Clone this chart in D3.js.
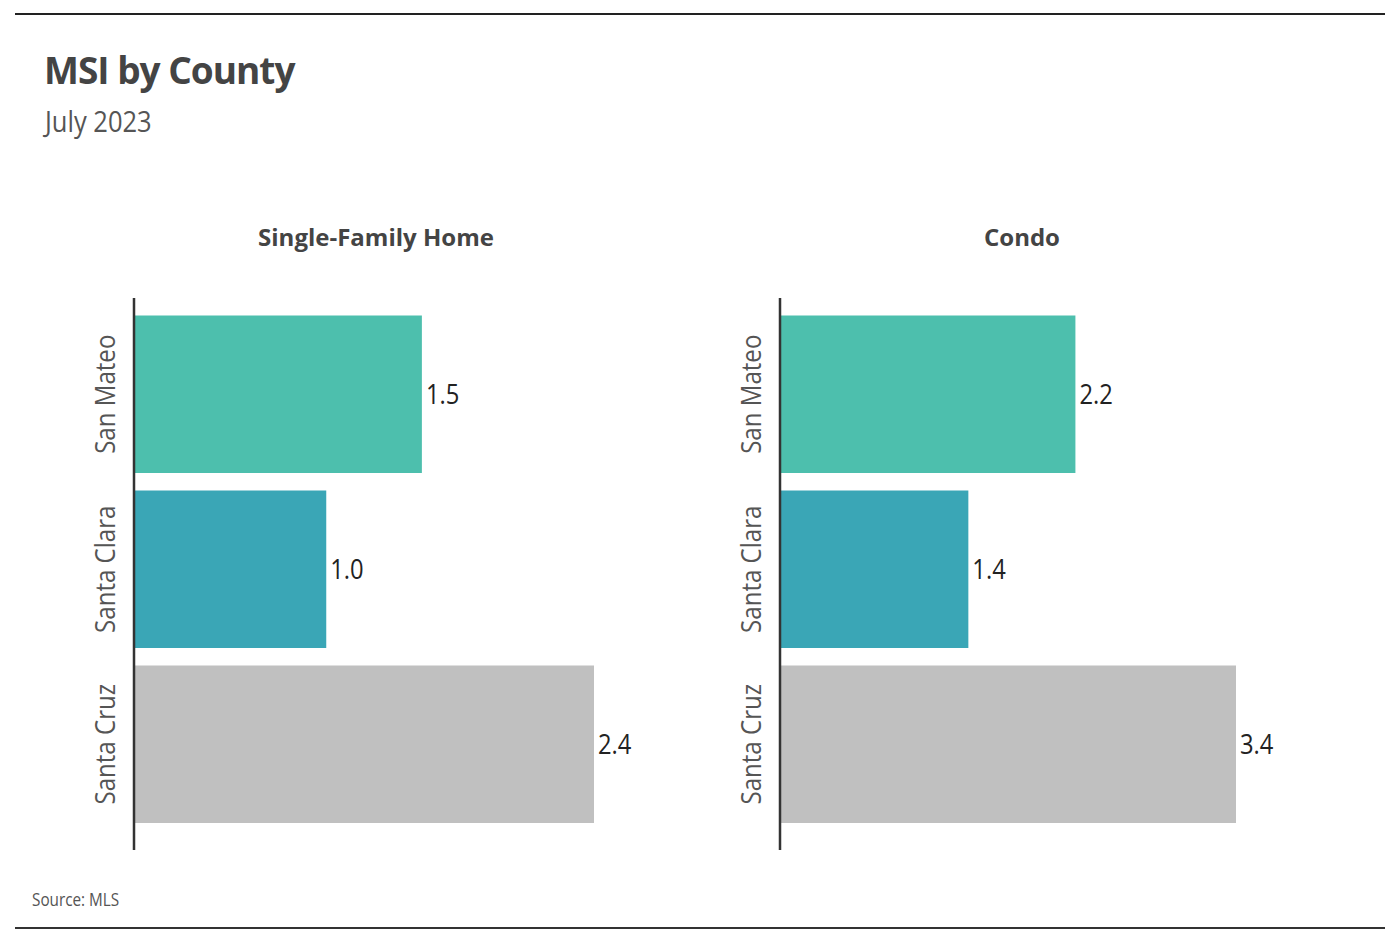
<!DOCTYPE html>
<html>
<head>
<meta charset="utf-8">
<script src="https://cdn.jsdelivr.net/npm/d3@7"></script>
<style>
  body { margin: 0; background: #fff; }
  svg { display: block; }
</style>
</head>
<body>
<svg id="chart" width="1398" height="946"></svg>
<script>
  'use strict'

  var counties = ['San Mateo', 'Santa Clara', 'Santa Cruz']
  var singleFamily = [1.5, 1.0, 2.4]
  var condo = [2.2, 1.4, 3.4]
  var panelTitles = ['Single-Family Home', 'Condo']
  var barColors = ['#4dbfad', '#3aa6b6', '#c0c0c0']

  var font = '"Open Sans", sans-serif'
  var svg = d3.select('#chart')

  // condensed look: squeeze the text horizontally
  function narrowText (x, y, sx, size, color, txt) {
    return svg.append('text')
      .attr('transform', 'translate(' + x + ',' + y + ') scale(' + sx + ',1)')
      .style('font-family', font).style('font-size', size).style('fill', color)
      .text(txt)
  }

  // frame rules
  svg.append('line').attr('x1', 15).attr('x2', 1385).attr('y1', 14).attr('y2', 14)
    .style('stroke', '#222').style('stroke-width', 2)
  svg.append('line').attr('x1', 15).attr('x2', 1385).attr('y1', 928).attr('y2', 928)
    .style('stroke', '#333').style('stroke-width', 2)

  svg.append('text').attr('x', 44).attr('y', 84)
    .style('font-family', font).style('font-weight', 700)
    .style('font-size', '37px').style('fill', '#444').style('letter-spacing', '-1px')
    .text('MSI by County')
  narrowText(45, 132, 0.88, '29px', '#555', 'July 2023')
  narrowText(32, 906, 0.85, '18px', '#555', 'Source: MLS')

  function drawPanel (axisX, titleX, title, values, barSpan) {
    var g = svg.append('g').attr('transform', 'translate(' + axisX + ',0)')

    var y = d3.scaleBand().domain(counties).range([298, 840.5])
      .paddingInner(0.1).paddingOuter(0.1)
    var x = d3.scaleLinear().domain([0, d3.max(values)]).range([0, barSpan])

    g.selectAll('rect.bar').data(counties).enter().append('rect')
      .attr('class', 'bar')
      .attr('x', 1)
      .attr('y', function (d) { return y(d) })
      .attr('width', function (d, i) { return x(values[i]) })
      .attr('height', y.bandwidth())
      .style('fill', function (d, i) { return barColors[i] })

    g.selectAll('text.value').data(counties).enter().append('text')
      .attr('class', 'value')
      .attr('transform', function (d, i) {
        return 'translate(' + (x(values[i]) + 5) + ',' + (y(d) + y.bandwidth() / 2) + ') scale(0.88,1)'
      })
      .attr('dy', '0.35em')
      .style('font-family', font).style('font-size', '27px').style('fill', '#222')
      .text(function (d, i) { return d3.format('.1f')(values[i]) })

    g.selectAll('text.cat').data(counties).enter().append('text')
      .attr('class', 'cat')
      .attr('transform', function (d) {
        return 'translate(-19,' + (y(d) + y.bandwidth() / 2) + ') rotate(-90) scale(0.86,1)'
      })
      .attr('text-anchor', 'middle')
      .style('font-family', font).style('font-size', '28px').style('fill', '#555')
      .text(function (d) { return d })

    g.append('line').attr('x1', 0).attr('x2', 0).attr('y1', 298).attr('y2', 850)
      .style('stroke', '#333').style('stroke-width', 2.5)

    svg.append('text').attr('x', titleX).attr('y', 246)
      .attr('text-anchor', 'middle')
      .style('font-family', font).style('font-weight', 700)
      .style('font-size', '24px').style('fill', '#444')
      .text(title)
  }

  drawPanel(134, 376, panelTitles[0], singleFamily, 459)
  drawPanel(780, 1022, panelTitles[1], condo, 455)
</script>
</body>
</html>
